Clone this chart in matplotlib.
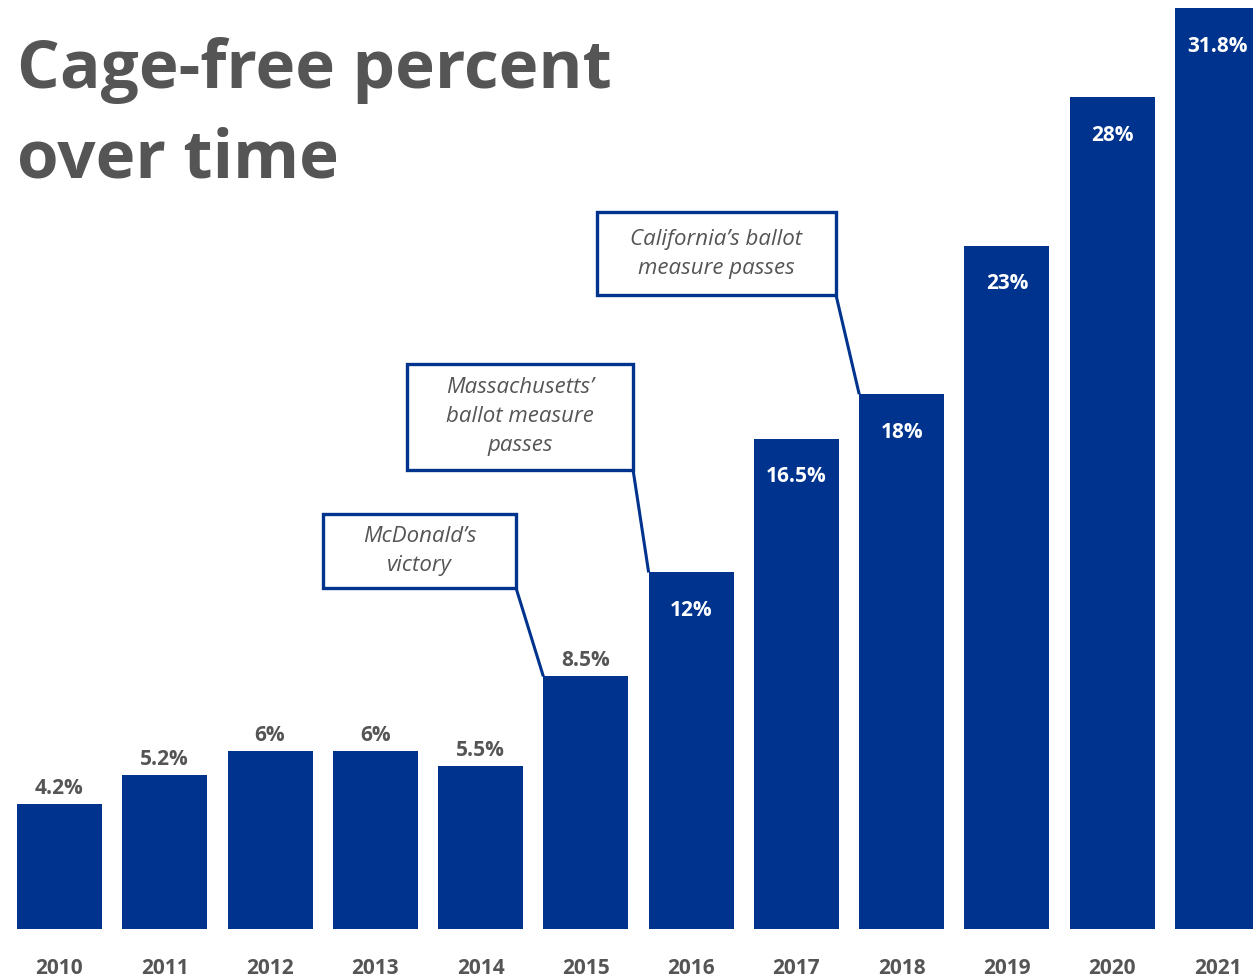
import matplotlib.pyplot as plt
from matplotlib.patches import Rectangle

years = ['2010', '2011', '2012', '2013', '2014', '2015',
         '2016', '2017', '2018', '2019', '2020', '2021']
percent = [4.2, 5.2, 6, 6, 5.5, 8.5, 12, 16.5, 18, 23, 28, 31.8]
labels = ['4.2%', '5.2%', '6%', '6%', '5.5%', '8.5%',
          '12%', '16.5%', '18%', '23%', '28%', '31.8%']

notes = ["McDonald\u2019s\nvictory",
         "Massachusetts\u2019\nballot measure\npasses",
         "California\u2019s ballot\nmeasure passes"]
note_years = ['2015', '2016', '2018']

BLUE = '#00338d'
GREY = '#555555'
FONT = 'Open Sans'

fig = plt.figure(figsize=(12.53, 9.8), dpi=100)
ax = fig.add_axes([0, 51 / 980, 1, 921 / 980])

x = list(range(len(years)))
w = 0.807
ax.bar(x, percent, width=w, color=BLUE)
ax.set_xlim(-0.565, 11.337)
ax.set_ylim(0, 31.0)
ax.axis('off')

ytop = ax.get_ylim()[1]
for i, (v, lab) in enumerate(zip(percent, labels)):
    if v < 10:
        ax.annotate(lab, (i, v), xytext=(0, 5), textcoords='offset pixels',
                    ha='center', va='bottom', fontsize=15, fontweight='bold',
                    color=GREY, family=FONT)
    else:
        ax.annotate(lab, (i, min(v, ytop)), xytext=(0, -38), textcoords='offset pixels',
                    ha='center', va='center', fontsize=15, fontweight='bold',
                    color='white', family=FONT)

# year labels below the bars
for i, yr in enumerate(years):
    ax.annotate(yr, (i, 0), xytext=(0, -50), textcoords='offset pixels',
                ha='center', va='bottom', fontsize=15, fontweight='bold',
                color=GREY, family=FONT)

# annotation boxes: (x-center, y-bottom, width, height) in data units
boxes = [(3.42, 11.48, 1.833, 2.49),
         (4.375, 15.45, 2.147, 3.57),
         (6.241, 21.34, 2.27, 2.79)]
for text, yr, (cx, by, bw, bh) in zip(notes, note_years, boxes):
    i = years.index(yr)
    ax.add_patch(Rectangle((cx - bw / 2, by), bw, bh, facecolor='white',
                           edgecolor=BLUE, linewidth=2.4, zorder=3))
    ax.plot([cx + bw / 2, i - w / 2], [by, percent[i]], color=BLUE,
            linewidth=2.2, zorder=2, solid_capstyle='butt')
    ax.text(cx, by + bh / 2, text, ha='center', va='center', fontsize=16,
            fontstyle='italic', color=GREY, family=FONT, linespacing=1.5,
            zorder=4)

fig.text(17 / 1253, 1 - 88 / 980, 'Cage-free percent', ha='left', va='baseline',
         fontsize=48.5, fontweight='bold', color=GREY, family=FONT)
fig.text(17 / 1253, 1 - 177 / 980, 'over time', ha='left', va='baseline',
         fontsize=48.5, fontweight='bold', color=GREY, family=FONT)

fig.savefig('out.png', dpi=100)
